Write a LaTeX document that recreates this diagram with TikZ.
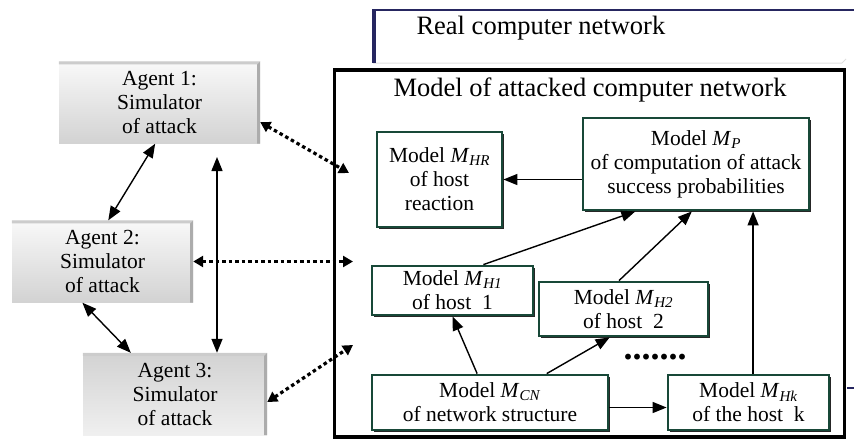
\documentclass[tikz,border=0pt]{standalone}
\usepackage{fontspec}
\setmainfont{Liberation Serif}
\usetikzlibrary{arrows.meta, shadows}
\definecolor{boxg}{RGB}{24, 72, 56}
\definecolor{navy}{RGB}{38, 38, 96}
\newcommand{\boxfont}{\fontsize{21.5}{24}\selectfont}
\newcommand{\headfont}{\fontsize{26.5}{30}\selectfont}
\newcommand{\msub}[1]{\textit{M}\textsubscript{\textit{#1}}}
% raised edge on top and right of an agent box
\newcommand{\agentedge}[1]{%
  \fill[gray!40] (#1.north west) -- (#1.north east) -- ([shift={(-3pt,-3pt)}]#1.north east) -- ([yshift=-3pt]#1.north west) -- cycle;
  \fill[gray!65] (#1.north east) -- (#1.south east) -- ([xshift=-3pt]#1.south east) -- ([shift={(-3pt,-3pt)}]#1.north east) -- cycle;}

\begin{document}
\begin{tikzpicture}[x=1pt, y=-1pt,
  agent/.style={minimum height=82pt, top color=gray!5, bottom color=gray!35,
    align=center, font=\boxfont, inner sep=0pt},
  model/.style={draw=boxg, line width=2.8pt, fill=white, align=center, font=\boxfont,
    inner sep=0pt, drop shadow={shadow xshift=2pt, shadow yshift=-2pt, opacity=0.85, fill=black}},
  arr/.style={-{Triangle[length=14pt,width=11pt]}, line width=1.4pt},
  dbl/.style={{Triangle[length=14pt,width=11pt]}-{Triangle[length=14pt,width=11pt]}, line width=1.4pt},
  dotl/.style={{Triangle[length=10pt,width=11pt]}-{Triangle[length=10pt,width=11pt]},
    line width=3.2pt, dash pattern=on 3.5pt off 3pt},
  ]
  \useasboundingbox (0,0) rectangle (854,440);

  % real network (only its edges show)
  \draw[gray!25, line width=1pt] (373,63) -- (842,63) -- (846,59);
  \draw[navy, line width=2pt] (373,10) -- (854,10);
  \draw[navy, line width=4pt] (374,9) -- (374,63);
  \draw[navy, line width=2.5pt] (847,388) -- (854,388);
  \node[font=\headfont, anchor=west] (realtxt) at (413,28) {Real computer network};

  % model of the network
  \node[draw, line width=3.5pt, minimum width=510pt, minimum height=367pt] (mod) at (589.5,253.5) {};
  \node[font=\headfont] (ttl) at (590,90) {Model of attacked computer network};

  % agents
  \node[agent, minimum width=201pt] (a1) at (159.5,102.5) {Agent 1:\\Simulator\\of attack};
  \node[agent, minimum width=181pt] (a2) at (102.5,261.5) {Agent 2:\\Simulator\\of attack};
  \node[agent, minimum width=184pt, top color=gray!35, bottom color=gray!12] (a3) at (175,394) {Agent 3:\\Simulator\\of attack};
  \agentedge{a1}
  \agentedge{a2}
  \agentedge{a3}

  % sub-models
  \node[model, minimum width=125pt, minimum height=95pt] (mhr) at (439.5,179.5) {Model \msub{HR}\\of host\\reaction};
  \node[model, minimum width=226pt, minimum height=92pt] (mp) at (696,164) {Model \msub{P}\\of computation of attack\\success probabilities};
  \node[model, minimum width=161pt, minimum height=49pt] (mh1) at (452.5,290.5) {Model \msub{H1}\\of host~ 1};
  \node[model, minimum width=169pt, minimum height=54pt] (mh2) at (623.5,309) {Model \msub{H2}\\of host~ 2};
  \node[model, minimum width=236pt, minimum height=55pt] (mcn) at (490,402.5) {Model \msub{CN}\\of network structure};
  \node[model, minimum width=161pt, minimum height=55pt] (mhk) at (748.5,402.5) {Model \msub{Hk}\\of the host~ k};
  \node[font=\fontsize{36}{36}\selectfont\bfseries, anchor=base] (dots) at (655,359) {.......};

  % links between agents
  \draw[dbl] (a1.-96) -- (a2.82);
  \draw[dbl] (a2.244) -- (a3.137);
  \coordinate (vtop) at (217,157);
  \draw[dbl] (vtop) -- (vtop |- a3.north);

  % agents to the model
  \coordinate (e1) at (349,173);
  \coordinate (e2) at (353,261.5);
  \coordinate (e3) at (353,345);
  \draw[dotl] (a1.-11.5) -- (e1);
  \draw[dotl] (a2.east) -- (e2);
  \draw[dotl] (a3.-5) -- (e3);

  % inside the model
  \draw[arr] (mp.west |- mhr.east) -- (mhr.east);
  \draw[arr] (mh1.40) -- (mp.218);
  \draw[arr] (mh2.99) -- (mp.265);
  \draw[arr] (mhk.81) -- (mhk.81 |- mp.south);
  \draw[arr] (mcn.114) -- (mh1.south);
  \draw[arr] (mcn.27) -- (mh2.244);
  \draw[arr] ([yshift=-5pt]mcn.east) -- ([yshift=-5pt]mhk.west);
\end{tikzpicture}
\end{document}
